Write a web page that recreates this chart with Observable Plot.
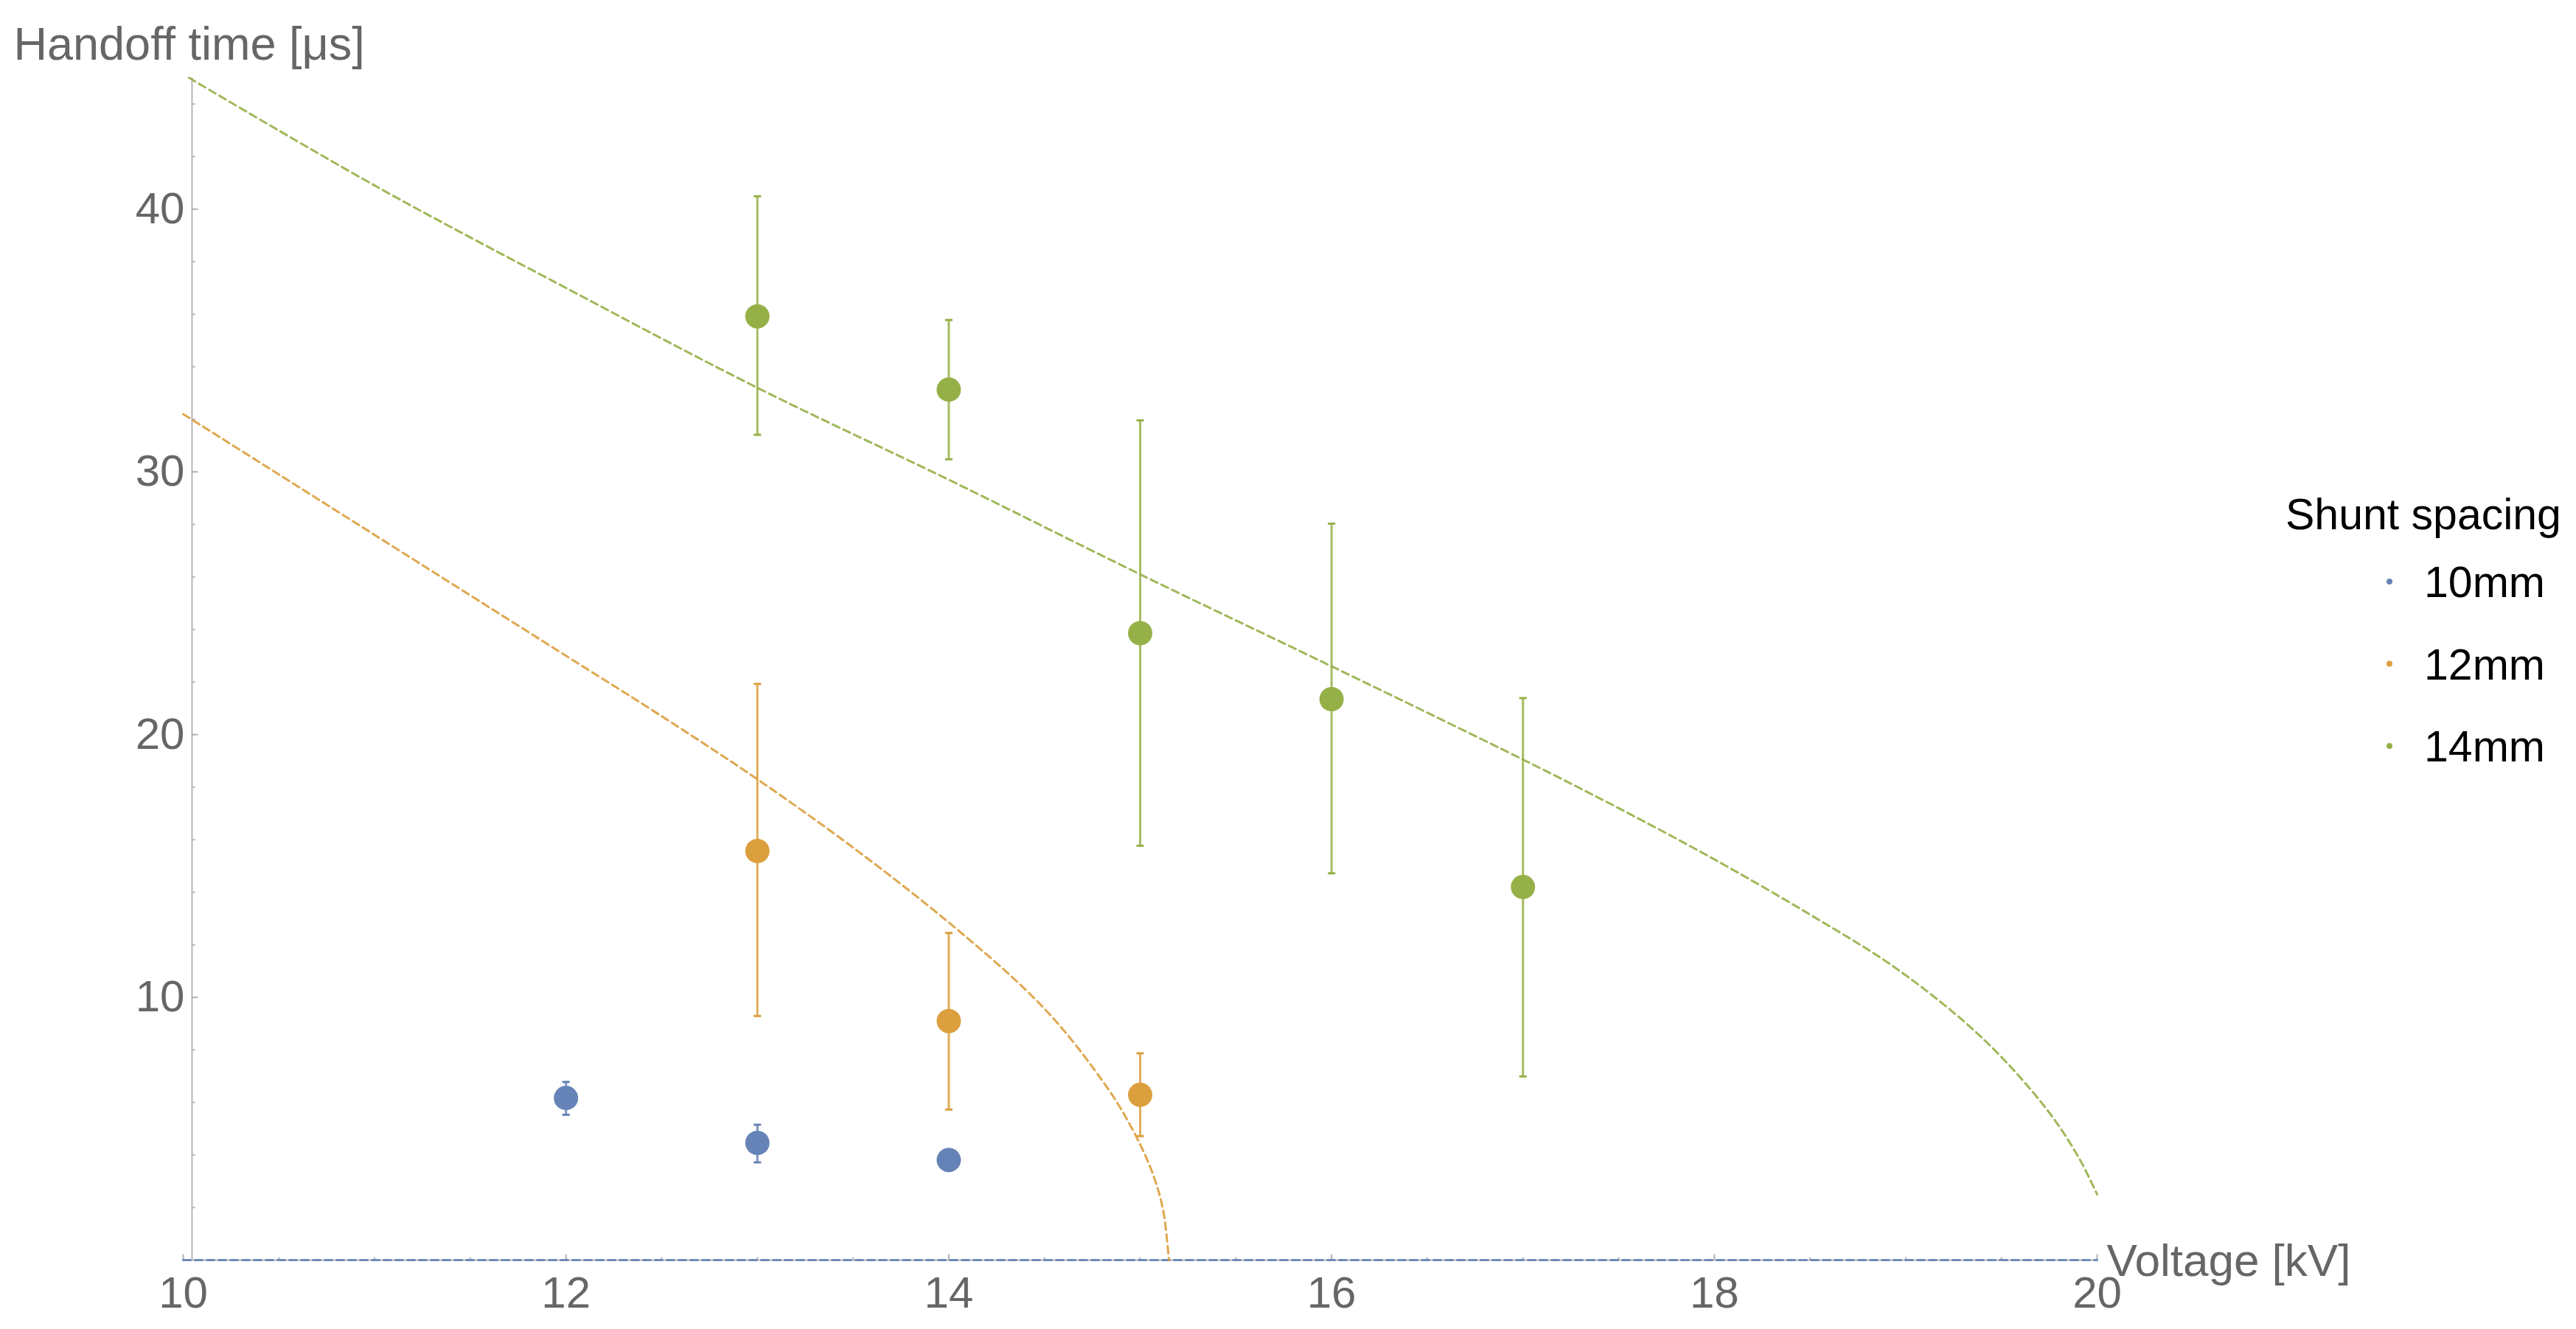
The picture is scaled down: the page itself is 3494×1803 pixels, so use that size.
<!DOCTYPE html>
<html>
<head>
<meta charset="utf-8">
<script src="https://cdn.jsdelivr.net/npm/d3@7"></script>
<script src="https://cdn.jsdelivr.net/npm/@observablehq/plot@0.6"></script>
<style>
  html, body { margin: 0; padding: 0; background: #ffffff; }
  body { width: 3494px; height: 1803px; overflow: hidden; }
  #chart { position: relative; width: 3494px; height: 1803px; }
</style>
</head>
<body>
<div id="chart"></div>
<script>
// ---------------- data ----------------
const spacings = ["10mm", "12mm", "14mm"];
const spacingColors = ["#6583b6", "#dc9f3d", "#96b048"];

// 10 mm shunt spacing
const voltage10 = [12, 13, 14];
const time10 = [6.17, 4.46, 3.81];
const low10 = [5.53, 3.72, 3.62];
const high10 = [6.78, 5.15, 4.0];

// 12 mm shunt spacing
const voltage12 = [13, 14, 15];
const time12 = [15.57, 9.1, 6.29];
const low12 = [9.29, 5.73, 4.72];
const high12 = [21.93, 12.45, 7.87];

// 14 mm shunt spacing
const voltage14 = [13, 14, 15, 16, 17];
const time14 = [35.92, 33.13, 23.86, 21.35, 14.2];
const low14 = [31.41, 30.48, 15.77, 14.72, 6.99];
const high14 = [40.49, 35.78, 31.96, 28.03, 21.39];

// fitted (dashed) curves
const fitVoltage10 = [10, 20];
const fitTime10 = [0, 0];
const fitVoltage12 = [10, 10.5, 11, 11.5, 12, 12.5, 13, 13.5, 14, 14.4, 14.6, 14.8, 14.9, 15.0, 15.07, 15.12, 15.15];
const fitTime12 = [32.2, 29.9, 27.6, 25.3, 23.0, 20.7, 18.3, 15.7, 12.85, 10.3, 8.75, 6.85, 5.75, 4.4, 3.2, 1.9, 0];
const fitVoltage14 = [10.03, 11, 12, 13, 14, 15, 16, 17, 17.5, 18, 18.5, 18.96, 19.4, 19.73, 19.9, 20];
const fitTime14 = [45.0, 40.9, 37.0, 33.2, 29.7, 26.1, 22.6, 19.05, 17.2, 15.25, 13.15, 11.05, 8.45, 5.8, 3.95, 2.5];

// axes
const xTickLabels = [10, 12, 14, 16, 18, 20];
const xMinorTicks = d3.range(10, 20.001, 0.5);
const yTickLabels = [10, 20, 30, 40];
const yMinorTicks = d3.range(2, 44.001, 2);
const axisOriginX = 10.046;
const xTitle = "Voltage [kV]";
const yTitle = "Handoff time [μs]";
const legendTitle = "Shunt spacing";

// ---------------- tables built from the arrays ----------------
const pointSets = [
  {v: voltage10, t: time10, lo: low10, hi: high10},
  {v: voltage12, t: time12, lo: low12, hi: high12},
  {v: voltage14, t: time14, lo: low14, hi: high14}
];
const points = pointSets.flatMap((s, k) =>
  s.v.map((v, i) => ({spacing: spacings[k], v, t: s.t[i], lo: s.lo[i], hi: s.hi[i]})));
const fitSets = [
  {v: fitVoltage10, t: fitTime10},
  {v: fitVoltage12, t: fitTime12},
  {v: fitVoltage14, t: fitTime14}
];
const fits = fitSets.flatMap((s, k) => s.v.map((v, i) => ({spacing: spacings[k], v, t: s.t[i]})));

// custom symbols: r is passed as size = r*r*PI
const len = (size) => Math.sqrt(size / Math.PI);
const tickUp = {draw(ctx, size) { const l = len(size); ctx.moveTo(0, 0); ctx.lineTo(0, -l); }};
const tickRight = {draw(ctx, size) { const l = len(size); ctx.moveTo(0, 0); ctx.lineTo(l, 0); }};
const capSymbol = {draw(ctx, size) { const l = len(size); ctx.moveTo(-l, 0); ctx.lineTo(l, 0); }};

const axisGrey = "#b5b5b5";
const textGrey = "#666666";
const font = "'Liberation Sans', Arial, Helvetica, sans-serif";

const colorScale = {domain: spacings, range: spacingColors};

const chart = Plot.plot({
  width: 3494,
  height: 1803,
  marginLeft: 248,
  marginRight: 650,
  marginTop: 105,
  marginBottom: 94,
  x: {domain: [10, 20]},
  y: {domain: [0, 45]},
  color: colorScale,
  style: {fontFamily: font, background: "#ffffff", overflow: "visible"},
  marks: [
    // axis lines
    Plot.ruleY([0], {x1: 10, x2: 20, stroke: axisGrey, strokeWidth: 2}),
    Plot.ruleX([axisOriginX], {y1: 0, y2: 45, stroke: axisGrey, strokeWidth: 2}),
    // minor + major ticks (pointing inward)
    Plot.dot(xMinorTicks, {x: d => d, y: () => 0, symbol: tickUp, r: 4, stroke: axisGrey, strokeWidth: 2, fill: "none"}),
    Plot.dot(xTickLabels, {x: d => d, y: () => 0, symbol: tickUp, r: 8, stroke: axisGrey, strokeWidth: 2, fill: "none"}),
    Plot.dot(yMinorTicks, {x: () => axisOriginX, y: d => d, symbol: tickRight, r: 4, stroke: axisGrey, strokeWidth: 2, fill: "none"}),
    Plot.dot(yTickLabels, {x: () => axisOriginX, y: d => d, symbol: tickRight, r: 8, stroke: axisGrey, strokeWidth: 2, fill: "none"}),
    // tick labels
    Plot.axisX({ticks: xTickLabels, tickSize: 0, tickPadding: 22, fontSize: 60, color: textGrey, label: null}),
    Plot.axisY({ticks: yTickLabels, tickSize: 0, tickPadding: -2, fontSize: 60, color: textGrey, label: null}),
    // axis titles
    Plot.text([yTitle], {frameAnchor: "top-left", text: d => d, dx: -230, dy: -25, textAnchor: "start", lineAnchor: "bottom", fontSize: 63, fill: textGrey}),
    Plot.text([xTitle], {frameAnchor: "bottom-right", text: d => d, dx: 13, dy: 21, textAnchor: "start", lineAnchor: "bottom", fontSize: 62, fill: textGrey}),
    // fitted curves
    Plot.line(fits, {x: "v", y: "t", z: "spacing", stroke: "spacing", strokeWidth: 3, strokeDasharray: "10,6", strokeOpacity: 0.9, curve: "catmull-rom"}),
    // error bars
    Plot.ruleX(points, {x: "v", y1: "lo", y2: "hi", stroke: "spacing", strokeWidth: 3, strokeOpacity: 0.85}),
    Plot.dot(points, {x: "v", y: "lo", symbol: capSymbol, r: 5, stroke: "spacing", strokeWidth: 3, fill: "none"}),
    Plot.dot(points, {x: "v", y: "hi", symbol: capSymbol, r: 5, stroke: "spacing", strokeWidth: 3, fill: "none"}),
    // data points
    Plot.dot(points, {x: "v", y: "t", r: 16.5, fill: "spacing", stroke: "none"})
  ]
});

document.getElementById("chart").appendChild(chart);

// legend (added into the SVG's right margin)
const svg = d3.select(chart);
const legend = svg.append("g")
  .attr("font-family", font).attr("font-size", 59).attr("fill", "#000")
  .attr("text-anchor", "start");
legend.append("text").attr("x", 3100).attr("y", 718).attr("text-anchor", "start").text(legendTitle);
spacings.forEach((s, i) => {
  const base = 810 + i * 111.5;
  legend.append("circle").attr("cx", 3241).attr("cy", base - 21).attr("r", 4).attr("fill", spacingColors[i]);
  legend.append("text").attr("x", 3288).attr("y", base).attr("text-anchor", "start").text(s);
});
</script>
</body>
</html>
